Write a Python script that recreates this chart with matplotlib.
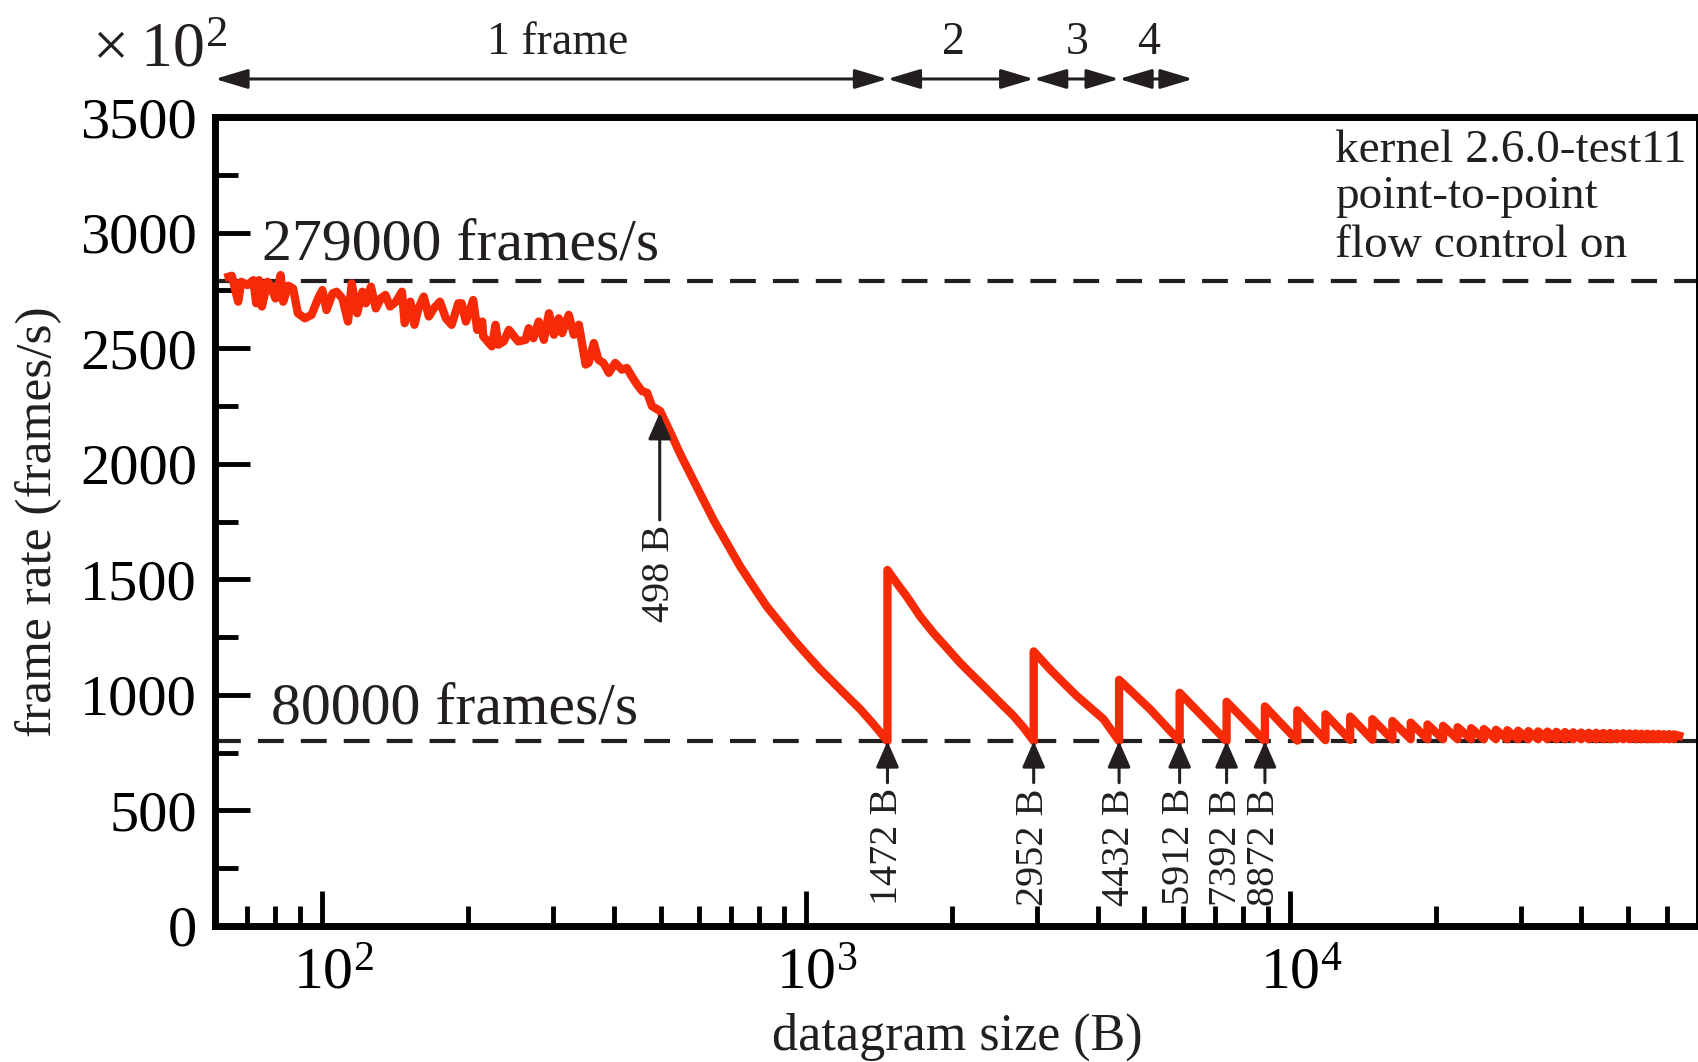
import numpy as np
import matplotlib.pyplot as plt
import matplotlib.transforms as mtransforms
from matplotlib.ticker import LogLocator, MultipleLocator, NullFormatter, FuncFormatter

plt.rcParams['font.family'] = ['Liberation Serif', 'DejaVu Serif']
plt.rcParams['mathtext.fontset'] = 'custom'
plt.rcParams['mathtext.rm'] = 'Liberation Serif'
plt.rcParams['mathtext.it'] = 'Liberation Serif:italic'

# one-frame region, noisy plateau (datagram size in B, frame rate in 100 frames/s)
plateau_size = [64, 65, 67, 68, 70, 72, 73, 74, 75, 77, 78, 80, 82, 83, 85, 87,
                89, 92, 95, 98, 100, 102, 105, 107, 110, 113, 115, 118, 121, 123,
                126, 129, 132, 135, 138, 142, 146, 148, 152, 155, 158, 162, 166,
                170, 175, 180, 185, 191, 194, 198, 205, 209, 214, 215, 224, 228,
                231, 237, 243, 249, 254, 263, 267, 273, 280, 287, 294, 301, 308,
                313, 323, 331, 339, 350, 355, 364, 372, 381, 391, 403, 416, 426,
                436, 447, 458, 469, 480]
plateau_rate = [2809, 2813, 2701, 2787, 2773, 2794, 2694, 2794, 2680, 2787, 2773,
                2715, 2816, 2701, 2770, 2758, 2651, 2629, 2644, 2715, 2751, 2665,
                2737, 2744, 2715, 2615, 2780, 2651, 2744, 2694, 2766, 2672, 2715,
                2730, 2680, 2701, 2744, 2608, 2701, 2601, 2672, 2723, 2637, 2672,
                2701, 2629, 2601, 2694, 2694, 2615, 2708, 2579, 2615, 2551, 2508,
                2601, 2515, 2529, 2579, 2551, 2529, 2536, 2586, 2543, 2615, 2536,
                2651, 2558, 2629, 2565, 2644, 2558, 2601, 2429, 2436, 2522, 2450,
                2436, 2393, 2436, 2407, 2414, 2378, 2343, 2314, 2307, 2249]

# one-frame region, smooth decay
decay_size = [499, 524, 549, 576, 604, 644, 686, 731, 778, 829, 884, 942, 1003,
              1069, 1139, 1213, 1293, 1377]
decay_rate = [2228, 2135, 2042, 1956, 1870, 1755, 1655, 1554, 1468, 1382, 1310,
              1239, 1174, 1110, 1052, 995, 938, 873]

# fragmentation edges (sawtooth): rate just before and just after each edge
edge_size = [1472, 2952, 4432, 5912, 7392, 8872, 10352, 11832, 13312, 14792,
             16272, 17752, 19232, 20712, 22192, 23672, 25152, 26632, 28112, 29592,
             31072, 32552, 34032, 35512, 36992, 38472, 39952, 41432, 42912, 44392,
             45872, 47352, 48832, 50312, 51792, 53272, 54752, 56232, 57712, 59192,
             60672, 62152]
trough_rate = [800, 800, 800, 800, 800, 800, 802, 804, 805, 806, 807, 808, 808,
               808, 808, 808, 808, 808, 808, 808, 808, 808, 808, 808, 808, 808, 808,
               808, 808, 808, 808, 808, 808, 808, 808, 808, 808, 808, 808, 808, 808, 808]
peak_rate = [1540, 1188, 1065, 1009, 970, 950, 933, 916, 906, 895, 887, 880, 872,
             866, 860, 856, 852, 849, 847, 845, 843, 842, 841, 840, 839, 838, 837,
             836, 836, 835, 835, 834, 834, 833, 833, 832, 832, 831, 831, 830, 830, 829]
mid_size = [1539, 1614, 1720, 1833, 1953, 2081, 2216, 2362, 2516, 2682, 2812,
            3192, 3401, 3625, 4115, 5137]
mid_rate = [1483, 1425, 1339, 1267, 1203, 1138, 1081, 1024, 966, 909, 859,
            1110, 1052, 995, 895, 938]
end_size, end_rate = 63700, 823

limit_hi, limit_lo = 2790, 800
marked_sizes = [1472, 2952, 4432, 5912, 7392, 8872]
frame_bounds = [60, 1472, 2952, 4432, 6300]
frame_labels = ['1 frame', '2', '3', '4']
frame_label_x = [307, 2014, 3631, 5089]

RED = '#f62a07'
INK = '#231f20'

# assemble the measured curve
xs = list(plateau_size) + list(decay_size)
ys = list(plateau_rate) + list(decay_rate)
for i, edge in enumerate(edge_size):
    xs += [edge, edge]
    ys += [trough_rate[i], peak_rate[i]]
    nxt = edge_size[i + 1] if i + 1 < len(edge_size) else end_size
    for m, r in zip(mid_size, mid_rate):
        if edge < m < nxt:
            xs.append(m)
            ys.append(r)
xs.append(end_size)
ys.append(end_rate)

fig = plt.figure(figsize=(16.98, 10.62), dpi=100)
ax = fig.add_axes([215 / 1698, 136 / 1062, 1484 / 1698, 809 / 1062])

ax.axhline(limit_hi, color=INK, lw=3, dashes=(6.2, 4.1), zorder=1)
ax.axhline(limit_lo, color=INK, lw=3, dashes=(6.2, 4.1), zorder=1)
ax.plot(xs, ys, color=RED, lw=6, solid_joinstyle='round', zorder=3)

ax.set_xscale('log')
ax.set_xlim(60, 70000)
ax.set_ylim(0, 3500)

for s in ax.spines.values():
    s.set_linewidth(5)
    s.set_color('black')

ax.xaxis.set_major_locator(LogLocator(base=10, numticks=10))
ax.xaxis.set_major_formatter(FuncFormatter(lambda v, p: r'$10^{%d}$' % round(np.log10(v))))
ax.xaxis.set_minor_locator(LogLocator(base=10, subs=np.arange(2, 10), numticks=20))
ax.xaxis.set_minor_formatter(NullFormatter())
ax.yaxis.set_major_locator(MultipleLocator(500))
ax.yaxis.set_minor_locator(MultipleLocator(250))

ax.tick_params(which='both', direction='in', top=False, right=False, color='black')
ax.tick_params(axis='y', which='major', length=25, width=3.5, labelsize=42, pad=13)
ax.tick_params(axis='y', which='minor', length=16.5, width=3.5)
ax.tick_params(axis='x', which='major', length=25, width=3.5, labelsize=43, pad=16)
ax.tick_params(axis='x', which='minor', length=14.5, width=3.5)

# centre the "10" on the tick, leaving the exponent to hang right
shift = mtransforms.ScaledTranslation(0.11, 0, fig.dpi_scale_trans)
for lab in ax.get_xticklabels():
    lab.set_transform(lab.get_transform() + shift)

ax.set_xlabel('datagram size (B)', fontsize=37.5, color=INK, va='baseline')
ax.xaxis.set_label_coords(0.5, (926 - 1050) / 809)
ax.set_ylabel('frame rate (frames/s)', fontsize=37, color=INK, va='center')
ax.yaxis.set_label_coords(-0.119, 0.5)

ax.text(75, 2882, '279000 frames/s', fontsize=43, color=INK, va='baseline')
ax.text(78.5, 878, '80000 frames/s', fontsize=43, color=INK, va='baseline')

side = mtransforms.blended_transform_factory(ax.transAxes, ax.transData)
for txt, yb in zip(['kernel 2.6.0-test11', 'point-to-point', 'flow control on'],
                   [3307, 3107, 2896]):
    ax.text(0.7547, yb, txt, fontsize=34, color=INK, va='baseline', transform=side)

arrow_kw = dict(color=INK, lw=2.2, shrinkA=0, shrinkB=0, mutation_scale=20)
up_head = '-|>,head_length=0.8,head_width=0.35'

# vertical markers at the fragmentation edges
for b in marked_sizes:
    ax.annotate('', xy=(b, limit_lo), xytext=(b, 620),
                arrowprops=dict(arrowstyle=up_head, **arrow_kw))
    ax.text(b, 597, f'{b} B', rotation=90, ha='center', va='top', fontsize=29, color=INK)

ax.annotate('', xy=(498, 2220), xytext=(498, 1757),
            arrowprops=dict(arrowstyle=up_head, **arrow_kw))
ax.text(498, 1735, '498 B', rotation=90, ha='center', va='top', fontsize=29, color=INK)

# frame count ranges above the plot
top = mtransforms.blended_transform_factory(ax.transData, ax.transAxes)
for x1, x2 in zip(frame_bounds[:-1], frame_bounds[1:]):
    ax.annotate('', xy=(x2, 1.047), xytext=(x1, 1.047), xycoords=top, textcoords=top,
                annotation_clip=False,
                arrowprops=dict(arrowstyle='<|-|>,head_length=1.0,head_width=0.3', **arrow_kw))
for lab, x in zip(frame_labels, frame_label_x):
    ax.text(x, 1.078, lab, transform=top, ha='center', va='baseline', fontsize=33, color=INK)

ax.text(0.008, 1.063, r'$\times\;10^{2}$', transform=ax.transAxes, ha='right',
        va='baseline', fontsize=46, color=INK)

fig.savefig('out.png', dpi=100)
